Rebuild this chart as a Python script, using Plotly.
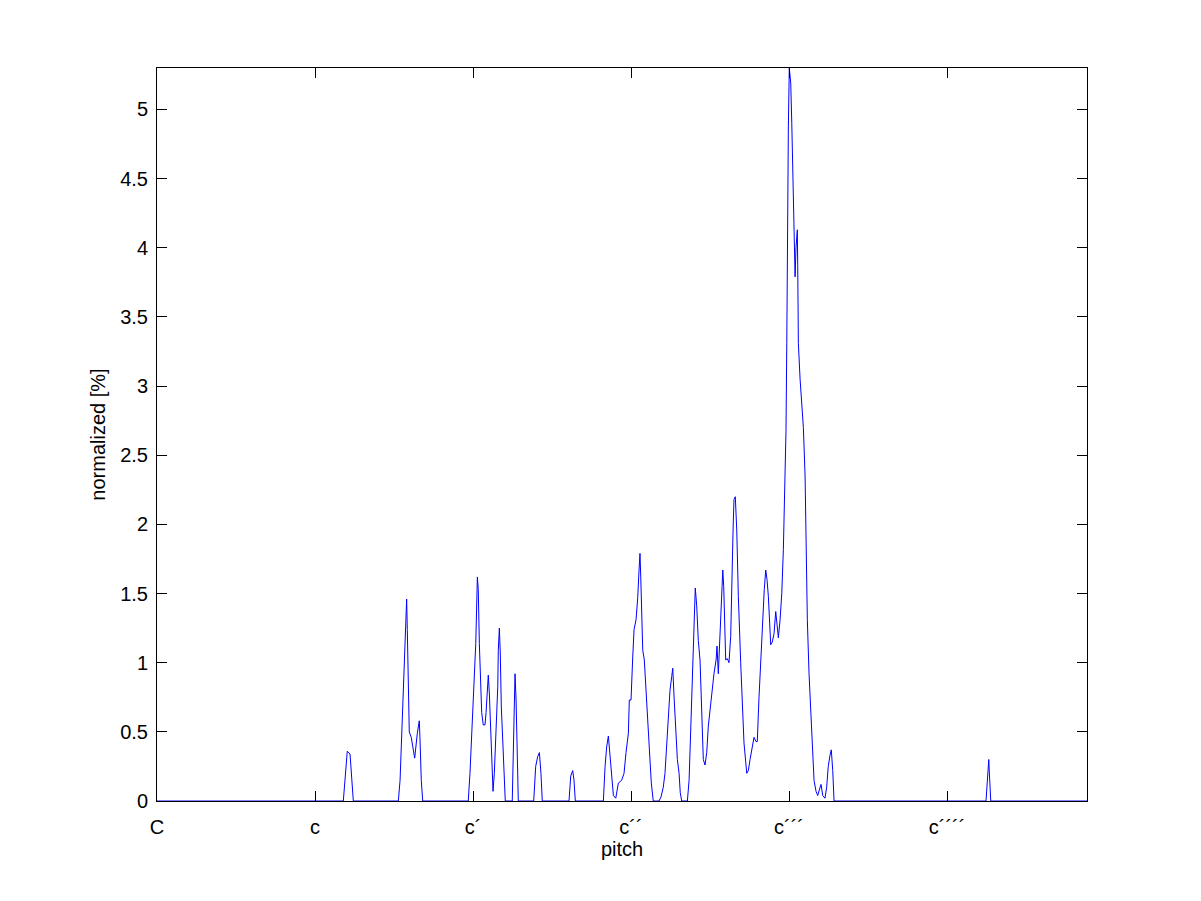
import plotly.graph_objects as go

# pitch in semitones (MIDI numbers: C=36, c=48, c'=60, c''=72, c'''=84, c''''=96)
pitch = [
    36.00, 50.15, 50.45, 50.66, 50.91,
    54.33, 54.46, 54.66, 54.71, 54.91, 54.96, 55.01, 55.12, 55.16, 55.31, 55.57, 55.77, 55.92, 55.97, 56.07, 56.18,
    59.64, 59.77, 59.90, 60.08, 60.21, 60.33, 60.40, 60.48, 60.66, 60.78, 60.91, 60.99, 61.09, 61.16, 61.24, 61.34,
    61.42, 61.52, 61.62, 61.75, 61.88, 61.92, 62.00, 62.07, 62.15, 62.28, 62.35, 62.45,
    62.98, 63.06, 63.14, 63.19, 63.27, 63.34, 63.44,
    64.61, 64.76, 64.91, 65.04, 65.16, 65.26,
    67.29, 67.42, 67.57, 67.67, 67.77,
    69.90, 70.03, 70.15, 70.28, 70.41, 70.53, 70.66, 70.84, 71.04, 71.29, 71.47, 71.62, 71.80, 71.87, 72.00,
    72.13, 72.23, 72.38, 72.51, 72.61, 72.68, 72.74, 72.81, 72.89, 73.01, 73.12, 73.24, 73.39, 73.54, 73.69,
    74.13, 74.28, 74.45, 74.58, 74.71, 74.83, 74.96, 75.09, 75.17, 75.27, 75.39, 75.52, 75.65, 75.74, 75.85,
    76.28, 76.41, 76.50, 76.61, 76.73, 76.81, 76.88, 76.99, 77.11, 77.24, 77.37, 77.49, 77.62, 77.75, 77.87,
    78.00, 78.13, 78.30, 78.46, 78.53, 78.63, 78.71, 78.81, 78.89, 78.97, 79.04, 79.09, 79.19, 79.31, 79.44,
    79.57, 79.65, 79.75, 79.82, 79.92, 80.03, 80.15, 80.33, 80.45, 80.58, 80.79, 80.91, 81.04, 81.17, 81.34,
    81.49, 81.59, 81.72, 81.85, 81.97, 82.12, 82.23, 82.33, 82.43, 82.53, 82.61, 82.73, 82.86, 82.99, 83.09,
    83.19, 83.32, 83.45, 83.57, 83.77, 83.83, 83.87, 83.95, 84.02, 84.13, 84.21, 84.30, 84.38, 84.46, 84.53,
    84.63, 84.66, 84.71, 84.84, 84.97, 85.09, 85.22, 85.29, 85.39, 85.52, 85.65, 85.77, 85.90, 86.05, 86.18,
    86.30, 86.43, 86.56, 86.73, 86.86, 86.98, 87.11, 87.21, 87.32, 87.42,
    98.96, 99.02, 99.09, 99.17, 99.21, 99.27, 99.32, 106.63,
]
normalized = [
    0, 0, 0.36, 0.34, 0,
    0, 0.15, 0.64, 0.85, 1.21, 1.46, 1.24, 0.75, 0.50, 0.46, 0.31, 0.49, 0.58, 0.46, 0.15, 0,
    0, 0.20, 0.49, 0.80, 1.14, 1.62, 1.53, 1.14, 0.64, 0.55, 0.55, 0.64, 0.84, 0.91, 0.78, 0.49,
    0.30, 0.07, 0.20, 0.54, 0.83, 1.09, 1.25, 1.07, 0.68, 0.39, 0.17, 0,
    0, 0.46, 0.75, 0.92, 0.73, 0.39, 0,
    0, 0.25, 0.32, 0.35, 0.20, 0,
    0, 0.18, 0.22, 0.15, 0,
    0, 0.25, 0.39, 0.47, 0.32, 0.15, 0.04, 0.02, 0.13, 0.15, 0.20, 0.35, 0.49, 0.73, 0.73,
    1.04, 1.24, 1.31, 1.47, 1.67, 1.79, 1.62, 1.29, 1.09, 1.02, 0.83, 0.56, 0.32, 0.13, 0,
    0, 0.03, 0.10, 0.20, 0.44, 0.64, 0.80, 0.90, 0.96, 0.75, 0.49, 0.30, 0.20, 0.06, 0,
    0, 0.15, 0.39, 0.75, 1.12, 1.36, 1.54, 1.41, 1.16, 1.02, 0.68, 0.30, 0.26, 0.35, 0.54,
    0.66, 0.75, 0.92, 1.02, 1.12, 0.92, 1.10, 1.36, 1.55, 1.67, 1.55, 1.31, 1.02, 1.03, 1.00,
    1.19, 1.60, 1.96, 2.18, 2.20, 1.96, 1.48, 1.00, 0.68, 0.42, 0.20, 0.22, 0.30, 0.37, 0.46,
    0.43, 0.43, 0.75, 1.00, 1.31, 1.53, 1.67, 1.60, 1.48, 1.31, 1.13, 1.15, 1.21, 1.37, 1.26,
    1.18, 1.31, 1.50, 1.82, 2.68, 3.31, 4.11, 4.88, 5.30, 5.19, 4.90, 4.44, 3.96, 3.79, 4.00,
    4.13, 3.87, 3.31, 3.05, 2.90, 2.70, 2.35, 1.84, 1.31, 0.92, 0.64, 0.44, 0.15, 0.07, 0.04,
    0.08, 0.12, 0.04, 0.02, 0.10, 0.25, 0.33, 0.37, 0.22, 0,
    0, 0.07, 0.21, 0.30, 0.21, 0.07, 0, 0,
]

x_tick_vals = [36, 48, 60, 72, 84, 96]
x_tick_text = ["C", "c", "c\u00b4", "c\u00b4\u00b4", "c\u00b4\u00b4\u00b4", "c\u00b4\u00b4\u00b4\u00b4"]
y_tick_vals = [0, 0.5, 1, 1.5, 2, 2.5, 3, 3.5, 4, 4.5, 5]
y_tick_text = ["0", "0.5", "1", "1.5", "2", "2.5", "3", "3.5", "4", "4.5", "5"]

x_range = [36, 106.63]
y_range = [0, 5.3]

fig = go.Figure()
fig.add_trace(go.Scatter(x=pitch, y=normalized, mode="lines",
                         line=dict(color="#0000ff", width=1), showlegend=False,
                         xaxis="x", yaxis="y"))
# empty trace so the overlay axes (carrying the inward tick marks) are drawn
fig.add_trace(go.Scatter(x=[], y=[], mode="lines", showlegend=False, xaxis="x2", yaxis="y2"))

font = dict(family="Liberation Sans, Arial, sans-serif", size=20, color="black")
hidden_ticks = dict(ticks="outside", tickcolor="rgba(0,0,0,0)", tickwidth=1,
                    showline=True, linecolor="black", linewidth=1, mirror=True,
                    showgrid=False, zeroline=False, tickfont=font, layer="above traces")
inner_ticks = dict(ticks="inside", ticklen=10, tickcolor="black", tickwidth=1,
                   showline=True, linecolor="black", linewidth=1, mirror="ticks",
                   showgrid=False, zeroline=False, showticklabels=False, layer="above traces")

fig.update_layout(
    width=1185, height=885,
    margin=dict(l=149, r=106, t=60, b=92),
    paper_bgcolor="white", plot_bgcolor="white",
    font=font,
    xaxis=dict(range=x_range, tickmode="array", tickvals=x_tick_vals, ticktext=x_tick_text,
               ticklen=8, title=dict(text="pitch", font=font, standoff=4), **hidden_ticks),
    yaxis=dict(range=y_range, tickmode="array", tickvals=y_tick_vals, ticktext=y_tick_text,
               ticklen=4, title=dict(text="normalized [%]", font=font, standoff=9), **hidden_ticks),
    xaxis2=dict(range=x_range, tickmode="array", tickvals=x_tick_vals, overlaying="x",
                anchor="y2", side="bottom", **inner_ticks),
    yaxis2=dict(range=y_range, tickmode="array", tickvals=y_tick_vals, overlaying="y",
                anchor="x2", side="left", **inner_ticks),
)

fig.write_html("out.html")
